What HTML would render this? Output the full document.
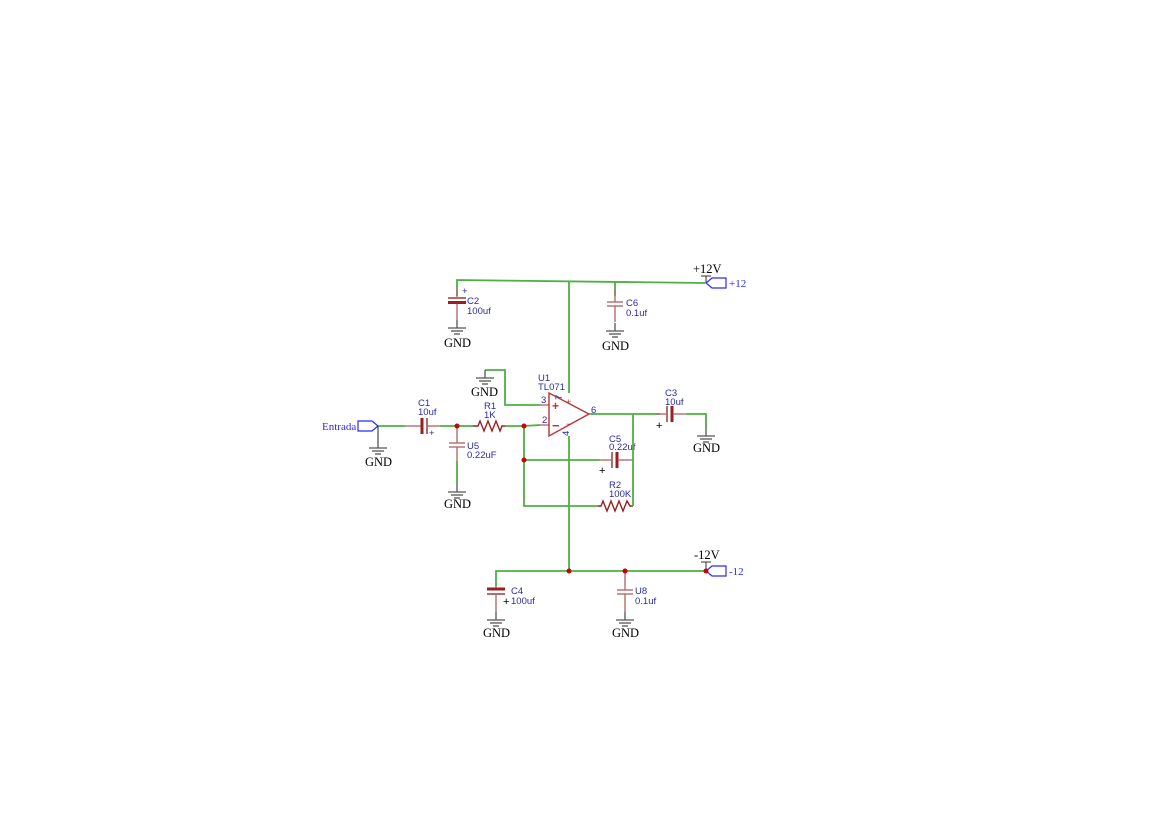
<!DOCTYPE html>
<html><head><meta charset="utf-8"><style>
html,body{margin:0;padding:0;background:#fff;}
svg{display:block;}
.w{stroke:#4cb040;stroke-width:1.8;fill:none;}
.r{stroke:#b36b6b;stroke-width:1.4;fill:none;}
.rd{stroke:#9a1f1f;fill:none;}
.g{stroke:#555;stroke-width:1.3;fill:none;}
.lb{font-family:"Liberation Sans",sans-serif;font-size:9.5px;fill:#2a2aa8;}
.gn{font-family:"Liberation Serif",serif;font-size:12.5px;fill:#000;}
.pb{font-family:"Liberation Serif",serif;font-size:11px;fill:#2a2aff;}
</style></head><body>
<svg width="1169" height="826" viewBox="0 0 1169 826" xmlns="http://www.w3.org/2000/svg">
<defs>
<g id="gnd"><line class="g" x1="0" y1="-8" x2="0" y2="0"/><line class="g" x1="-9" y1="0" x2="9" y2="0"/><line class="g" x1="-6" y1="3" x2="6" y2="3"/><line class="g" x1="-3" y1="6" x2="3" y2="6"/></g>
</defs>
<polyline class="w" points="457,296 457,280 705,283"/>
<line class="w" x1="569" y1="281" x2="569" y2="393"/>
<line class="w" x1="569" y1="436" x2="569" y2="571"/>
<line class="w" x1="615" y1="282" x2="615" y2="296"/>
<line class="r" x1="457" y1="290" x2="457" y2="297"/>
<line stroke="#b36b6b" stroke-width="2" x1="448" y1="298" x2="466" y2="298"/>
<line stroke="#9a1f1f" stroke-width="3" x1="448" y1="302.5" x2="466" y2="302.5"/>
<line class="r" x1="457" y1="304" x2="457" y2="320"/>
<use href="#gnd" x="457" y="328"/>
<text class="gn" x="444" y="347">GND</text>
<text class="lb" x="462" y="294" font-size="7">+</text>
<text class="lb" x="467" y="304">C2</text><text class="lb" x="467" y="314">100uf</text>
<line class="r" x1="615" y1="290" x2="615" y2="302"/>
<line class="r" x1="607" y1="302" x2="623" y2="302"/>
<line class="r" x1="607" y1="306" x2="623" y2="306"/>
<line class="r" x1="615" y1="306" x2="615" y2="322"/>
<use href="#gnd" x="615" y="331"/>
<text class="gn" x="602" y="350">GND</text>
<text class="lb" x="626" y="306">C6</text><text class="lb" x="626" y="316">0.1uf</text>
<text class="gn" x="693" y="273">+12V</text>
<line stroke="#333" x1="701" y1="276" x2="711" y2="276"/><line stroke="#333" x1="706" y1="276" x2="706" y2="283"/>
<polygon points="706,283 712,278 726,278 726,288 712,288" fill="none" stroke="#2a2aff" stroke-width="1.2"/>
<text class="pb" x="729" y="287">+12</text>
<polyline class="w" points="485,370 505,370 505,405 540,405"/>
<use href="#gnd" x="485" y="378"/>
<text class="gn" x="471" y="396">GND</text>
<line class="r" x1="540" y1="405" x2="549" y2="405"/>
<line class="r" x1="540" y1="425" x2="549" y2="425"/>
<polygon points="549,393 549,436 589,414" fill="none" stroke="#b33" stroke-width="1.4"/>
<text fill="#b33" font-family="Liberation Sans" font-size="12" x="552" y="410" font-weight="bold">+</text>
<text fill="#b33" font-family="Liberation Sans" font-size="13" x="552" y="430" font-weight="bold">−</text>
<text fill="#b33" font-family="Liberation Sans" font-size="9" x="566" y="405">+</text>
<text fill="#b33" font-family="Liberation Sans" font-size="9" x="566" y="427">−</text>
<text class="lb" x="538" y="381">U1</text><text class="lb" x="538" y="390">TL071</text>
<text class="lb" x="541" y="403">3</text><text class="lb" x="542" y="423">2</text>
<text class="lb" x="591" y="413">6</text>
<text class="lb" x="562" y="394" transform="rotate(-90 565 397)">7</text>
<text class="lb" x="562" y="437" transform="rotate(-90 565 433)">4</text>
<text class="pb" x="322" y="430">Entrada</text>
<polygon points="358,421 372,421 378,426 372,431 358,431" fill="none" stroke="#2a2aff" stroke-width="1.2"/>
<line class="w" x1="378" y1="426" x2="405" y2="426"/>
<line stroke="#222" x1="378" y1="426" x2="378" y2="448"/>
<use href="#gnd" x="378" y="448"/>
<text class="gn" x="365" y="466">GND</text>
<line class="r" x1="405" y1="426" x2="421" y2="426"/>
<line stroke="#9a1f1f" stroke-width="3" x1="422" y1="418" x2="422" y2="434"/>
<line stroke="#b36b6b" stroke-width="2" x1="427" y1="418" x2="427" y2="434"/>
<line class="r" x1="427" y1="426" x2="440" y2="426"/>
<text class="lb" x="429" y="436" font-size="7">+</text>
<text class="lb" x="418" y="406">C1</text><text class="lb" x="418" y="415">10uf</text>
<line class="w" x1="440" y1="426" x2="473" y2="426"/>
<line class="r" x1="457" y1="426" x2="457" y2="443"/>
<line class="r" x1="449" y1="443" x2="465" y2="443"/>
<line class="r" x1="449" y1="447" x2="465" y2="447"/>
<line class="r" x1="457" y1="447" x2="457" y2="461"/>
<line class="w" x1="457" y1="461" x2="457" y2="484"/>
<use href="#gnd" x="457" y="492"/>
<text class="gn" x="444" y="508">GND</text>
<text class="lb" x="467" y="449">U5</text><text class="lb" x="467" y="458">0.22uF</text>
<polyline class="rd" stroke-width="1.4" points="473,426 478,426 480,421 484,431 488,421 492,431 496,421 500,431 502,426 505,426"/>
<text class="lb" x="484" y="409">R1</text><text class="lb" x="484" y="418">1K</text>
<polyline class="w" points="505,426 524,426 540,425"/>
<polyline class="w" points="524,426 524,506 598,506"/>
<line class="w" x1="524" y1="460" x2="600" y2="460"/>
<line class="r" x1="600" y1="460" x2="611" y2="460"/>
<line stroke="#b36b6b" stroke-width="2" x1="612" y1="452" x2="612" y2="468"/>
<line stroke="#9a1f1f" stroke-width="3" x1="617" y1="452" x2="617" y2="468"/>
<line class="r" x1="618" y1="460" x2="633" y2="460"/>
<text fill="#000" font-family="Liberation Sans" font-size="11" x="599" y="474">+</text>
<text class="lb" x="609" y="442">C5</text><text class="lb" x="609" y="450">0.22uf</text>
<polyline class="rd" stroke-width="1.4" points="598,506 601,506 603,501 607,511 611,501 615,511 619,501 623,511 627,501 630,506 633,506"/>
<text class="lb" x="609" y="488">R2</text><text class="lb" x="609" y="497">100K</text>
<polyline class="w" points="589,414 633,414 633,506"/>
<line class="w" x1="633" y1="414" x2="660" y2="414"/>
<line class="r" x1="655" y1="414" x2="666" y2="414"/>
<line stroke="#b36b6b" stroke-width="2" x1="667" y1="406" x2="667" y2="422"/>
<line stroke="#9a1f1f" stroke-width="3" x1="672" y1="406" x2="672" y2="422"/>
<line class="r" x1="673" y1="414" x2="686" y2="414"/>
<polyline class="w" points="686,414 706,414 706,428"/>
<use href="#gnd" x="706" y="436"/>
<text class="gn" x="693" y="452">GND</text>
<text fill="#000" font-family="Liberation Sans" font-size="11" x="656" y="429">+</text>
<text class="lb" x="665" y="396">C3</text><text class="lb" x="665" y="405">10uf</text>
<polyline class="w" points="496,586 496,571 706,571"/>
<line class="r" x1="496" y1="586" x2="496" y2="588"/>
<line stroke="#9a1f1f" stroke-width="3" x1="487" y1="589" x2="505" y2="589"/>
<line stroke="#b36b6b" stroke-width="2" x1="487" y1="594" x2="505" y2="594"/>
<line class="r" x1="496" y1="595" x2="496" y2="612"/>
<use href="#gnd" x="496" y="620"/>
<text class="gn" x="483" y="637">GND</text>
<text fill="#000" font-family="Liberation Sans" font-size="11" x="503" y="605">+</text>
<text class="lb" x="511" y="594">C4</text><text class="lb" x="511" y="604">100uf</text>
<line class="r" x1="625" y1="571" x2="625" y2="590"/>
<line class="r" x1="617" y1="590" x2="633" y2="590"/>
<line class="r" x1="617" y1="594" x2="633" y2="594"/>
<line class="r" x1="625" y1="594" x2="625" y2="612"/>
<use href="#gnd" x="625" y="620"/>
<text class="gn" x="612" y="637">GND</text>
<text class="lb" x="635" y="594">U8</text><text class="lb" x="635" y="604">0.1uf</text>
<text class="gn" x="694" y="559">-12V</text>
<line stroke="#333" x1="701" y1="562" x2="711" y2="562"/><line stroke="#333" x1="706" y1="562" x2="706" y2="571"/>
<polygon points="706,571 712,566 726,566 726,576 712,576" fill="none" stroke="#2a2aff" stroke-width="1.2"/>
<text class="pb" x="729" y="575">-12</text>
<g fill="#c00"><circle cx="457" cy="426" r="2.5"/><circle cx="524" cy="426" r="2.5"/><circle cx="524" cy="460" r="2.5"/><circle cx="569" cy="571" r="2.5"/><circle cx="625" cy="571" r="2.5"/><circle cx="706" cy="571" r="2.5"/></g>
</svg>
</body></html>
